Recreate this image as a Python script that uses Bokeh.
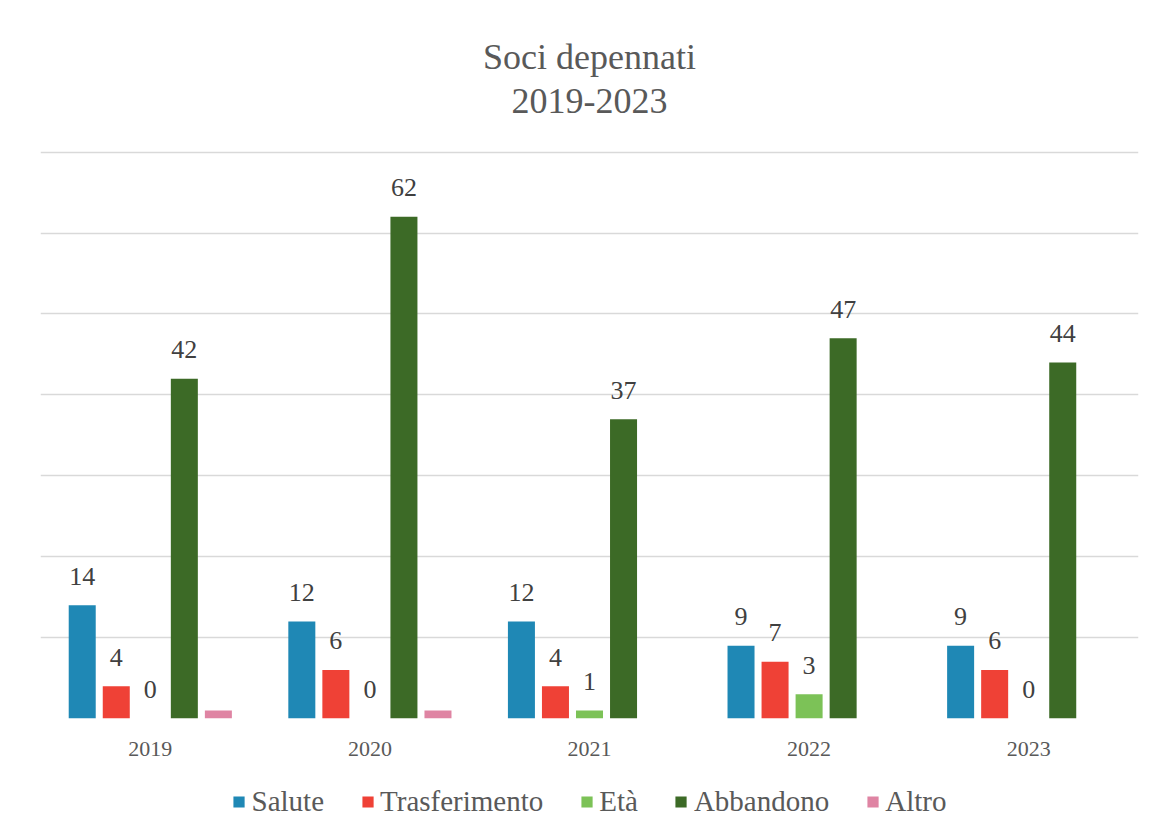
from bokeh.plotting import figure
from bokeh.layouts import column
from bokeh.models import (FactorRange, Range1d, SingleIntervalTicker, Legend,
                          LegendItem, Title, ColumnDataSource)
from bokeh.transform import dodge
from bokeh.embed import file_html
from bokeh.resources import INLINE
from bokeh.core.properties import value

years = ["2019", "2020", "2021", "2022", "2023"]
series = ["Salute", "Trasferimento", "Età", "Abbandono", "Altro"]
salute = [14, 12, 12, 9, 9]
trasferimento = [4, 6, 4, 7, 6]
eta = [0, 0, 1, 3, 0]
abbandono = [42, 62, 37, 47, 44]
altro = [1, 1, 0, 0, 0]
colors = ["#1f88b5", "#ef4136", "#7cc257", "#3c6a26", "#df84a3"]
show_labels = [True, True, True, True, False]

FONT = "Liberation Serif"

p = figure(x_range=FactorRange(*years), y_range=Range1d(0, 70.2),
           frame_width=1098, frame_height=568, output_backend="svg", toolbar_location=None,
           title=None, min_border_left=40, min_border_right=15,
           min_border_top=150, min_border_bottom=52)
p.outline_line_color = None
p.background_fill_color = "white"
p.border_fill_color = "white"

spacer = Title(text=" ", text_font=FONT, text_font_size="19px", text_color="white")
t2 = Title(text="2019-2023", align="center", text_font=FONT, text_font_size="36px",
           text_color="#595959", text_font_style="normal")
t1 = Title(text="Soci depennati", align="center", text_font=FONT, text_font_size="36px",
           text_color="#595959", text_font_style="normal")
p.add_layout(spacer, "above")
p.add_layout(t2, "above")
p.add_layout(t1, "above")

data = {"year": years}
vals = [salute, trasferimento, eta, abbandono, altro]
for name, v in zip(series, vals):
    data[name] = v
    data[name + "_lbl"] = [str(x) for x in v]
src = ColumnDataSource(data)

# legend-only strip below the chart (its bars lie outside its visible range)
lf = figure(x_range=FactorRange(*years), y_range=Range1d(1000, 1001),
            frame_width=1098, frame_height=62, output_backend="svg", toolbar_location=None,
            min_border_left=40, min_border_right=15, min_border_top=0, min_border_bottom=0,
            x_axis_location=None, y_axis_location=None)
lf.outline_line_color = None
lf.xgrid.visible = False
lf.ygrid.visible = False

step = 0.155
bw = 0.123
items = []
for i, name in enumerate(series):
    off = (i - 2) * step
    p.vbar(x=dodge("year", off, range=p.x_range), top=name, width=bw, source=src,
           fill_color=colors[i], line_color=None)
    lr = lf.vbar(x="year", top=name, width=bw, source=src,
                 fill_color=colors[i], line_color=None)
    items.append(LegendItem(label=name, renderers=[lr]))
    if show_labels[i]:
        p.text(x=dodge("year", off, range=p.x_range), y=name, text=name + "_lbl", source=src,
               text_align="center", text_baseline="alphabetic", y_offset=-29,
               text_font=value(FONT), text_font_size="26px", text_color="#404040")

p.yaxis.visible = False
p.ygrid.ticker = SingleIntervalTicker(interval=10)
p.ygrid.grid_line_color = "#d9d9d9"
p.ygrid.grid_line_width = 1.5
p.xgrid.visible = False

p.xaxis.axis_line_color = None
p.xaxis.major_tick_line_color = None
p.xaxis.minor_tick_line_color = None
p.xaxis.major_tick_out = 0
p.xaxis.major_tick_in = 0
p.xaxis.major_label_standoff = 23
p.xaxis.major_label_text_font = FONT
p.xaxis.major_label_text_font_size = "22px"
p.xaxis.major_label_text_color = "#595959"

legend = Legend(items=items, orientation="horizontal", location="center",
                label_text_font=FONT, label_text_font_size="29px",
                label_text_color="#595959", glyph_width=14, glyph_height=14,
                label_standoff=6, spacing=36, border_line_color=None,
                background_fill_alpha=0, padding=0, margin=0)
lf.add_layout(legend, "center")

open("out.html", "w").write(file_html(column(p, lf, spacing=0), INLINE))
